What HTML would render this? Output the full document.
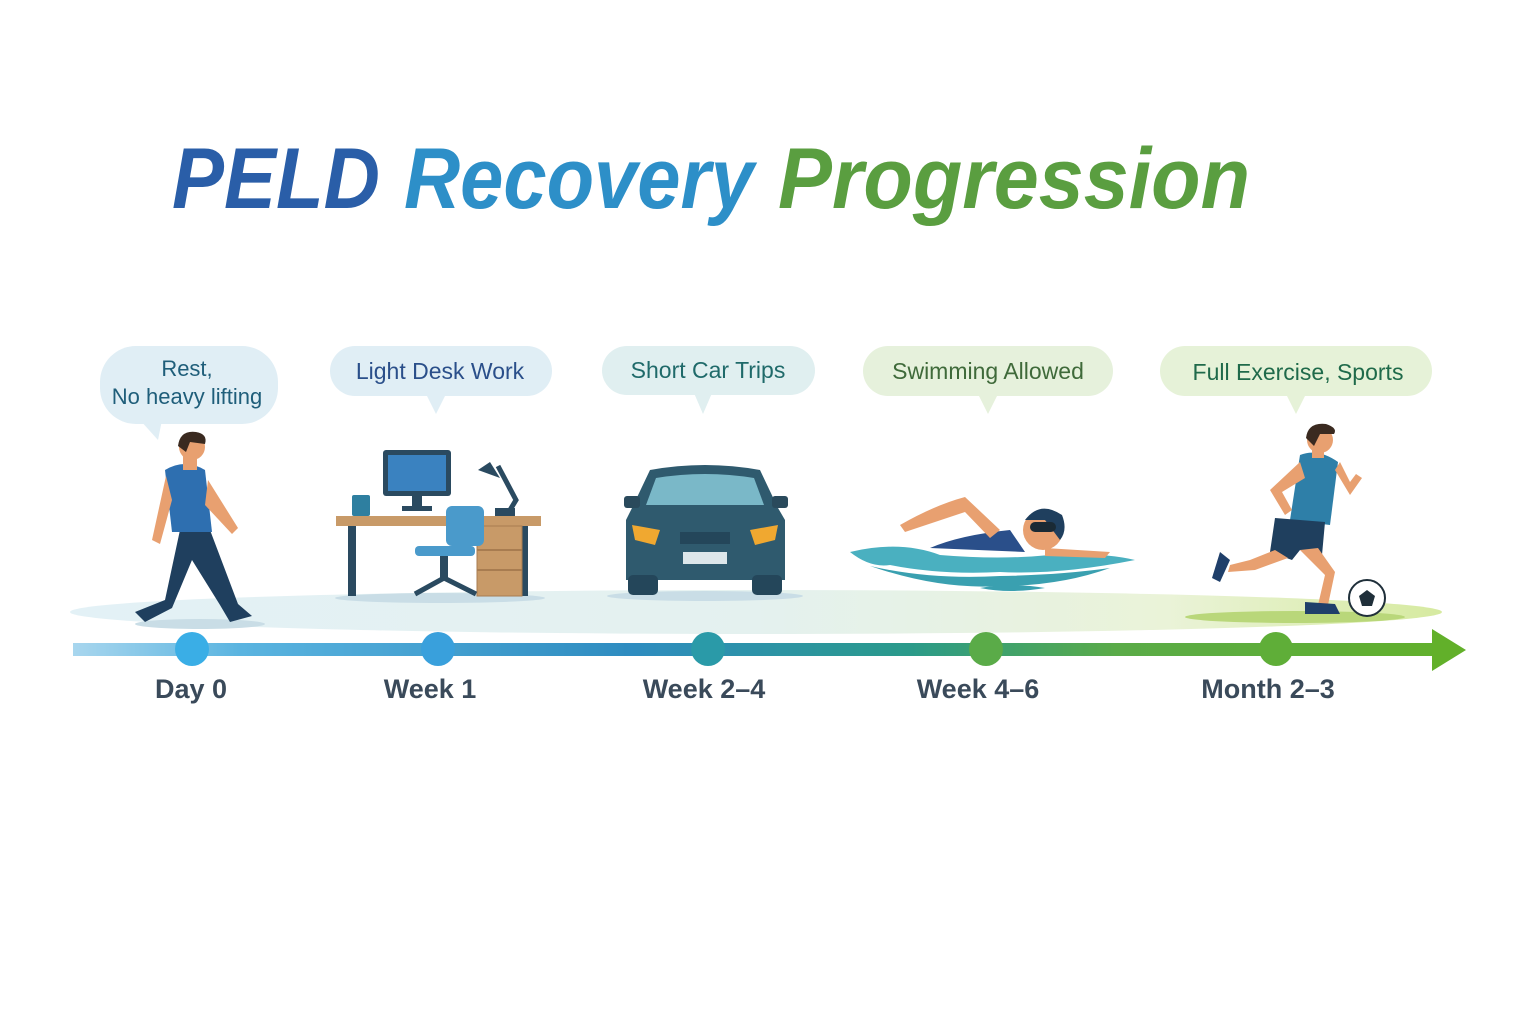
<!DOCTYPE html>
<html><head><meta charset="utf-8"><style>
html,body{margin:0;padding:0;background:#fff;}
svg{display:block;}
text{font-family:"Liberation Sans",sans-serif;}
</style></head><body>
<svg width="1536" height="1024" viewBox="0 0 1536 1024">
<defs>
<linearGradient id="tl" x1="73" x2="1465" y1="0" y2="0" gradientUnits="userSpaceOnUse">
<stop offset="0" stop-color="#a8d6ee"/><stop offset="0.12" stop-color="#5ab4e0"/><stop offset="0.4" stop-color="#2e8cc0"/><stop offset="0.6" stop-color="#2a9a8a"/><stop offset="0.75" stop-color="#5aab48"/><stop offset="1" stop-color="#62b02a"/>
</linearGradient>
<linearGradient id="gr" x1="70" x2="1442" gradientUnits="userSpaceOnUse">
<stop offset="0" stop-color="#e3f1f6"/><stop offset="0.5" stop-color="#e4f1ef"/><stop offset="0.8" stop-color="#eaf3d8"/><stop offset="1" stop-color="#d6eaa0"/>
</linearGradient>
<linearGradient id="tt" x1="400" x2="1250" gradientUnits="userSpaceOnUse">
<stop offset="0" stop-color="#2a8fd0"/><stop offset="0.4" stop-color="#2f9aa8"/><stop offset="0.5" stop-color="#4c9a48"/><stop offset="1" stop-color="#6aae3c"/>
</linearGradient>
</defs>

<!-- title -->
<text x="172" y="208" font-size="86" font-weight="bold" font-style="italic" fill="#2a5ea8" textLength="208" lengthAdjust="spacingAndGlyphs">PELD</text>
<text x="404" y="208" font-size="86" font-weight="bold" font-style="italic" fill="#2d8fc8" textLength="350" lengthAdjust="spacingAndGlyphs">Recovery</text>
<text x="778" y="208" font-size="86" font-weight="bold" font-style="italic" fill="#5a9e40" textLength="472" lengthAdjust="spacingAndGlyphs">Progression</text>

<!-- ground -->
<ellipse cx="756" cy="612" rx="686" ry="22" fill="url(#gr)"/>
<ellipse cx="1295" cy="617" rx="110" ry="6" fill="#b9d77a"/>

<!-- bubbles -->
<g>
<rect x="100" y="346" width="178" height="78" rx="36" fill="#e0eef5"/><path d="M140 420 L158 440 L162 420Z" fill="#e0eef5"/>
<text x="187" y="376" font-size="22" fill="#1f5e7a" text-anchor="middle">Rest,</text>
<text x="187" y="404" font-size="22" fill="#1f5e7a" text-anchor="middle">No heavy lifting</text>
<rect x="330" y="346" width="222" height="50" rx="25" fill="#e0eef5"/><path d="M426 394 L436 414 L446 394Z" fill="#e0eef5"/>
<text x="440" y="379" font-size="23" fill="#2a4f8a" text-anchor="middle">Light Desk Work</text>
<rect x="602" y="346" width="213" height="49" rx="25" fill="#e0eff0"/><path d="M694 393 L703 414 L712 393Z" fill="#e0eff0"/>
<text x="708" y="378" font-size="23" fill="#1f6a6a" text-anchor="middle">Short Car Trips</text>
<rect x="863" y="346" width="250" height="50" rx="25" fill="#e6f1dc"/><path d="M978 394 L988 414 L998 394Z" fill="#e6f1dc"/>
<text x="988" y="379" font-size="23" fill="#3f6a3a" text-anchor="middle">Swimming Allowed</text>
<rect x="1160" y="346" width="272" height="50" rx="25" fill="#e6f2d8"/><path d="M1286 394 L1296 414 L1306 394Z" fill="#e6f2d8"/>
<text x="1298" y="380" font-size="23" fill="#1f6a4a" text-anchor="middle">Full Exercise, Sports</text>
</g>

<!-- walking man -->
<g>
<ellipse cx="200" cy="624" rx="65" ry="5" fill="#c9dde6"/>
<path d="M180 530 L165 600 L135 612 L145 622 L172 608 L192 560 L220 605 L230 622 L252 616 L238 604 L210 530Z" fill="#1f3f5e"/>
<path d="M165 470 Q185 458 205 470 L212 532 L172 532Z" fill="#2e6fb0"/>
<path d="M166 476 L152 540 L160 544 L172 500Z" fill="#e8a070"/>
<path d="M208 480 L238 528 L232 534 L205 505Z" fill="#e8a070"/>
<rect x="183" y="452" width="14" height="18" fill="#e8a070"/>
<circle cx="192" cy="447" r="13" fill="#e8a070"/>
<path d="M178 446 Q180 430 196 432 Q208 434 205 444 L190 442 L186 452Z" fill="#3a2a20"/>
</g>

<!-- desk -->
<g>
<ellipse cx="440" cy="598" rx="105" ry="5" fill="#c9dde6"/>
<rect x="336" y="516" width="205" height="10" fill="#c89a68"/>
<rect x="348" y="526" width="8" height="70" fill="#2a4a60"/>
<rect x="520" y="526" width="8" height="70" fill="#2a4a60"/>
<rect x="477" y="526" width="45" height="70" fill="#c89a68" stroke="#a87c50"/>
<line x1="477" y1="550" x2="522" y2="550" stroke="#a87c50" stroke-width="2"/>
<line x1="477" y1="570" x2="522" y2="570" stroke="#a87c50" stroke-width="2"/>
<rect x="383" y="450" width="68" height="46" rx="3" fill="#2a4a60"/>
<rect x="388" y="455" width="58" height="36" fill="#3a82c0"/>
<rect x="412" y="496" width="10" height="10" fill="#2a4a60"/>
<rect x="402" y="506" width="30" height="5" fill="#2a4a60"/>
<rect x="352" y="495" width="18" height="21" rx="2" fill="#2e7fa0"/>
<rect x="446" y="506" width="38" height="40" rx="6" fill="#4a9acb"/>
<rect x="415" y="546" width="60" height="10" rx="4" fill="#4a9acb"/>
<rect x="440" y="556" width="8" height="22" fill="#2a4a60"/>
<path d="M415 594 L444 578 L476 594" stroke="#2a4a60" stroke-width="5" fill="none"/>
<path d="M498 466 L516 500 L510 510" stroke="#2a4a60" stroke-width="5" fill="none"/>
<path d="M478 470 L490 462 L500 478Z" fill="#2a4a60"/>
<rect x="495" y="508" width="20" height="8" fill="#2a4a60"/>
</g>

<!-- car -->
<g>
<ellipse cx="705" cy="596" rx="98" ry="5" fill="#c9dde6"/>
<path d="M650 470 Q705 460 760 470 L778 508 L785 520 L785 580 L626 580 L626 520 L632 508Z" fill="#2f5a6e"/>
<path d="M656 478 Q705 470 754 478 L764 505 L646 505Z" fill="#7ab8c8"/>
<rect x="624" y="496" width="16" height="12" rx="3" fill="#2a4a5c"/>
<rect x="772" y="496" width="16" height="12" rx="3" fill="#2a4a5c"/>
<path d="M632 525 L660 530 L655 545 L635 540Z" fill="#f0a830"/>
<path d="M778 525 L750 530 L755 545 L775 540Z" fill="#f0a830"/>
<rect x="680" y="532" width="50" height="12" fill="#24465a"/>
<rect x="683" y="552" width="44" height="12" fill="#dde6ea"/>
<rect x="628" y="575" width="30" height="20" rx="5" fill="#24465a"/>
<rect x="752" y="575" width="30" height="20" rx="5" fill="#24465a"/>
</g>

<!-- swimmer -->
<g>
<path d="M850 552 Q900 540 940 555 Q1000 560 1050 555 Q1100 552 1135 560 Q1060 575 1000 572 Q940 575 890 565 Q870 568 850 552Z" fill="#4ab0c0"/>
<path d="M870 566 Q930 580 1000 576 Q1060 575 1110 568 Q1060 586 1000 586 Q940 590 870 566Z" fill="#3aa0b0"/>
<path d="M980 588 Q1010 582 1045 588 Q1010 594 980 588Z" fill="#3aa0b0"/>
<path d="M930 548 Q960 535 1010 530 L1025 552 Z" fill="#2a4f8a"/>
<path d="M900 525 Q935 505 965 497 L1000 530 L990 538 L965 512 L905 532Z" fill="#e8a070"/>
<circle cx="1043" cy="530" r="20" fill="#e8a070"/>
<path d="M1025 520 Q1040 500 1062 515 Q1068 530 1060 540 L1045 520Z" fill="#1f3f5e"/>
<rect x="1030" y="522" width="26" height="10" rx="5" fill="#1a2a35"/>
<path d="M1045 548 L1110 552 L1105 558 L1045 556Z" fill="#e8a070"/>
</g>

<!-- runner -->
<g>
<path d="M1300 455 Q1318 448 1338 462 L1330 525 L1290 520Z" fill="#2e7fa8"/>
<path d="M1275 518 L1325 522 L1322 555 L1300 550 L1292 560 L1270 552Z" fill="#1f3f5e"/>
<path d="M1275 550 L1250 560 L1230 565 L1228 572 L1255 570 L1288 558Z" fill="#e8a070"/>
<path d="M1300 550 L1325 575 L1318 605 L1328 605 L1335 572 L1318 548Z" fill="#e8a070"/>
<path d="M1220 552 L1230 560 L1220 582 L1212 578Z" fill="#1f3f6a"/>
<path d="M1305 602 L1335 604 L1340 614 L1305 614Z" fill="#1f3f6a"/>
<path d="M1300 462 L1270 490 L1285 515 L1292 510 L1282 492 L1305 478Z" fill="#e8a070"/>
<path d="M1335 470 L1350 495 L1362 478 L1356 474 L1350 482 L1340 462Z" fill="#e8a070"/>
<rect x="1312" y="444" width="12" height="14" fill="#e8a070"/>
<circle cx="1320" cy="440" r="13" fill="#e8a070"/>
<path d="M1306 438 Q1308 422 1326 424 Q1338 428 1334 434 L1320 434 L1314 446Z" fill="#3a2a20"/>
<circle cx="1367" cy="598" r="18" fill="#fff" stroke="#1f2f3a" stroke-width="2"/>
<path d="M1367 590 L1375 596 L1372 606 L1362 606 L1359 596Z" fill="#1f2f3a"/>
</g>

<!-- timeline -->
<rect x="73" y="643" width="1370" height="13" fill="url(#tl)"/>
<path d="M1432 629 L1466 650 L1432 671Z" fill="#62b02a"/>
<circle cx="192" cy="649" r="17" fill="#3aaee6"/>
<circle cx="438" cy="649" r="17" fill="#39a0dc"/>
<circle cx="708" cy="649" r="17" fill="#2a9aa8"/>
<circle cx="986" cy="649" r="17" fill="#5aab48"/>
<circle cx="1276" cy="649" r="17" fill="#5fae38"/>

<g font-size="27" font-weight="bold" fill="#3a4a5a" text-anchor="middle">
<text x="191" y="698">Day 0</text>
<text x="430" y="698">Week 1</text>
<text x="704" y="698">Week 2–4</text>
<text x="978" y="698">Week 4–6</text>
<text x="1268" y="698">Month 2–3</text>
</g>
</svg>
</body></html>
